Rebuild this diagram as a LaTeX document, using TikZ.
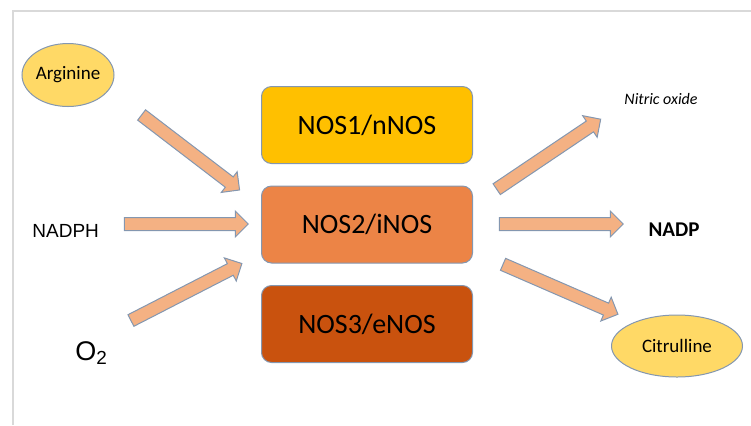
\documentclass[tikz,border=0pt]{standalone}
\usepackage{fontspec}
\setmainfont{Carlito}
\newfontfamily\arialfont{Liberation Sans}
\usepackage{tikz}
\usetikzlibrary{shapes,calc}
\usetikzlibrary{positioning}
\definecolor{nosgold}{HTML}{FFC000}
\definecolor{nosorange}{HTML}{EC8446}
\definecolor{nosrust}{HTML}{C9520E}
\definecolor{subyellow}{HTML}{FFD966}
\definecolor{flowpeach}{HTML}{F4B183}
\definecolor{edgeblue}{HTML}{8497B0}
\tikzstyle{NOSbox}=[draw=edgeblue,line width=0.5pt,rounded corners=5pt,minimum width=105.5pt,
                minimum height=38.5pt,font=\fontsize{14}{16}\selectfont]
\tikzstyle{Asub}=[draw=edgeblue,line width=0.5pt,ellipse,fill=subyellow,inner sep=0,
                font=\fontsize{9.5}{11}\selectfont]
\tikzstyle{Aflow}=[draw=edgeblue,line width=0.5pt,fill=flowpeach,single arrow,
                single arrow head extend=3.25pt,inner xsep=0,inner ysep=3pt,minimum width=0]
\tikzstyle{Alabel}=[inner sep=0]
\tikzstyle{frame}=[black!15,line width=1.2pt]
\newcommand{\PHflow}[2]{\path let \p1=($(#2)-(#1)$), \n1={veclen(\x1,\y1)} in
  (#1) -- (#2) node[Aflow,midway,sloped,minimum height=\n1] {};}

\begin{document}
\begin{tikzpicture}[x=0.5pt,y=-0.5pt,node distance=49.75pt]
\path[use as bounding box] (0,0) rectangle (751,425);
\draw[frame] (13,425) -- (13,11) -- (751,11);

\node[NOSbox,fill=nosorange] (nos2) at (367,224.5) {NOS2/iNOS};
\node[NOSbox,fill=nosgold,above of=nos2] (nos1) {NOS1/nNOS};
\node[NOSbox,fill=nosrust,below of=nos2] (nos3) {NOS3/eNOS};

\node[Asub,minimum width=46pt,minimum height=31.5pt] (arg) at (68,75) {Arginine};
\node[Alabel,anchor=base west,font=\arialfont\fontsize{9.5}{11}\selectfont] (nadph) at (32,237) {NADPH};
\node[Alabel,anchor=base west,font=\arialfont\fontsize{13.5}{15}\selectfont] (oxy) at (75,360) {O\textsubscript{2}};

\node[Alabel,font=\fontsize{8}{9}\selectfont\itshape] (no) at (661,99) {Nitric oxide};
\node[Alabel,font=\fontsize{10.5}{12}\selectfont\bfseries] (nadp) at (674,230) {NADP};
\node[Asub,minimum width=65.5pt,minimum height=31pt] (cit) at (677,346) {Citrulline};

\coordinate (argT) at (139,113);  \coordinate (argH) at (237,188);
\coordinate (nadT) at (121,224);  \coordinate (nadH) at (245,224);
\coordinate (oxT) at (128,322);   \coordinate (oxH) at (239,265);
\coordinate (noT) at (494,191);   \coordinate (noH) at (598,121);
\coordinate (nadpT) at (496,224); \coordinate (nadpH) at (620,224);
\coordinate (citT) at (500,263);  \coordinate (citH) at (615,313);

\PHflow{argT}{argH}
\PHflow{nadT}{nadH}
\PHflow{oxT}{oxH}
\PHflow{noT}{noH}
\PHflow{nadpT}{nadpH}
\PHflow{citT}{citH}

\end{tikzpicture}
\end{document}
